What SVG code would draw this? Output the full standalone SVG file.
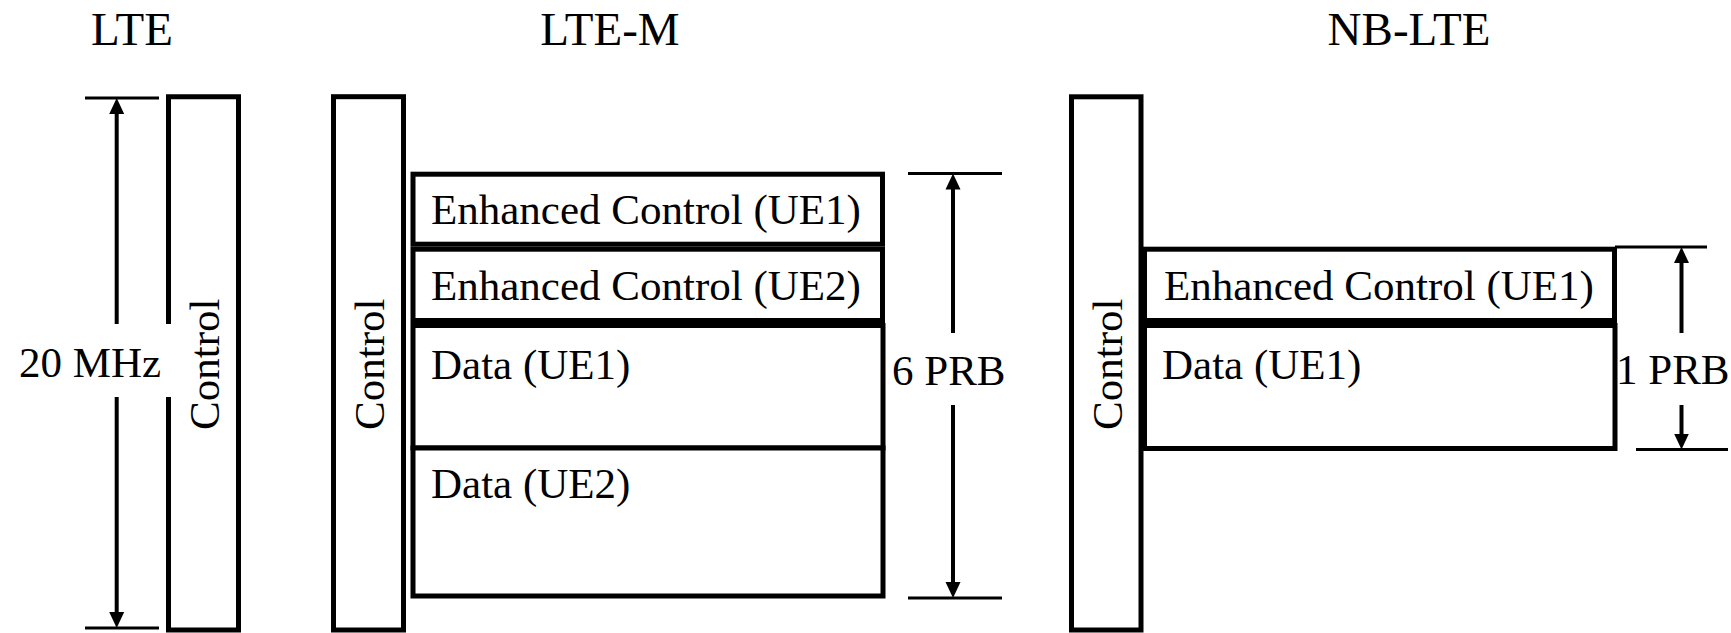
<svg xmlns="http://www.w3.org/2000/svg" width="1731" height="633" viewBox="0 0 1731 633">
<style>
.box{fill:#fff;stroke:#000;stroke-width:5}
.edge{fill:none;stroke:#000;stroke-width:5}
.title{font-family:"Liberation Serif","Times New Roman",serif;font-size:47px;fill:#000}
.lbl{font-family:"Liberation Serif","Times New Roman",serif;font-size:43px;fill:#000}
.dim{stroke:#000;stroke-width:4;fill:none}
.tick{stroke:#000;stroke-width:3;fill:none}
</style>
<defs>
<marker id="ah" viewBox="0 0 16 16" refX="10" refY="8" markerWidth="16" markerHeight="16" markerUnits="userSpaceOnUse" orient="auto">
<path d="M0,0.5 L16,8 L0,15.5 z" fill="#000"/>
</marker>
</defs>
<rect width="1731" height="633" fill="#fff"/>

<g id="titles">
<text class="title" x="132" y="45" text-anchor="middle">LTE</text>
<text class="title" x="610" y="45" text-anchor="middle">LTE-M</text>
<text class="title" x="1409" y="45" text-anchor="middle">NB-LTE</text>
</g>

<g id="lte-control">
<path class="edge" d="M168.5,324 V96.7 H238.5 V630 H168.5 V397"/>
<text class="lbl" transform="translate(219,430) rotate(-90)">Control</text>
</g>

<g id="ltem-control">
<rect class="box" x="333.5" y="96.7" width="70" height="533.3"/>
<text class="lbl" transform="translate(384,430) rotate(-90)">Control</text>
</g>

<g id="ltem-ec1">
<rect class="box" x="413" y="174.2" width="469.5" height="70"/>
<text class="lbl" x="431" y="224">Enhanced Control (UE1)</text>
</g>
<g id="ltem-ec2">
<rect class="box" x="413" y="249.2" width="469.5" height="71.3"/>
<text class="lbl" x="431" y="300">Enhanced Control (UE2)</text>
</g>
<g id="ltem-data1">
<rect class="box" x="413" y="325.5" width="470" height="122.5"/>
<text class="lbl" x="431" y="379">Data (UE1)</text>
</g>
<g id="ltem-data2">
<rect class="box" x="413" y="448" width="470" height="148"/>
<text class="lbl" x="431" y="498">Data (UE2)</text>
</g>

<g id="nb-control">
<rect class="box" x="1071.5" y="96.8" width="69.5" height="533.2"/>
<text class="lbl" transform="translate(1122,430) rotate(-90)">Control</text>
</g>
<g id="nb-ec1">
<rect class="box" x="1144.5" y="249.2" width="470" height="71.3"/>
<text class="lbl" x="1164" y="300">Enhanced Control (UE1)</text>
</g>
<g id="nb-data1">
<rect class="box" x="1144.5" y="325.5" width="470.5" height="123"/>
<text class="lbl" x="1162" y="379">Data (UE1)</text>
</g>

<g id="connectors">
<line class="tick" x1="85" y1="98" x2="159" y2="98"/>
<line class="tick" x1="85" y1="628" x2="159" y2="628"/>
<line class="dim" x1="116.7" y1="324" x2="116.7" y2="104" marker-end="url(#ah)"/>
<line class="dim" x1="116.7" y1="397" x2="116.7" y2="622" marker-end="url(#ah)"/>

<line class="tick" x1="908" y1="173.5" x2="1002" y2="173.5"/>
<line class="tick" x1="908" y1="598" x2="1002" y2="598"/>
<line class="dim" x1="953" y1="333" x2="953" y2="179.5" marker-end="url(#ah)"/>
<line class="dim" x1="953" y1="405" x2="953" y2="592" marker-end="url(#ah)"/>

<line class="tick" x1="1615" y1="247" x2="1707" y2="247"/>
<line class="tick" x1="1636" y1="449.5" x2="1728" y2="449.5"/>
<line class="dim" x1="1681.5" y1="333" x2="1681.5" y2="253" marker-end="url(#ah)"/>
<line class="dim" x1="1681.5" y1="405" x2="1681.5" y2="443.5" marker-end="url(#ah)"/>
</g>

<g id="dimension-labels">
<text class="lbl" x="19" y="377">20 MHz</text>
<text class="lbl" x="892" y="385">6 PRB</text>
<text class="lbl" x="1616" y="384">1 PRB</text>
</g>
</svg>
